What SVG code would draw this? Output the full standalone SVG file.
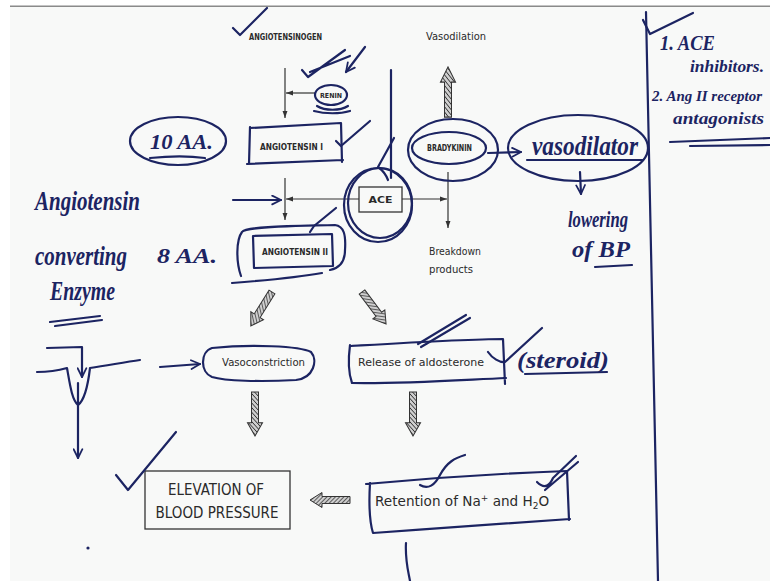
<svg xmlns="http://www.w3.org/2000/svg" width="770" height="581" viewBox="0 0 770 581">
<style>
.pt{font-family:"DejaVu Sans","Liberation Sans",sans-serif;fill:#2a2a2a}
.sc{font-size:8px;font-weight:bold}
.hw{font-family:"Liberation Serif",serif;font-style:italic;font-weight:bold;fill:#1c2462}
.pen{fill:none;stroke:#1c2462;stroke-width:2.2;stroke-linecap:round;stroke-linejoin:round}
.ln{fill:none;stroke:#333;stroke-width:1.2}
.box{fill:none;stroke:#333;stroke-width:1.3}
.ha{fill:url(#hatch);stroke:#333;stroke-width:1}
</style>
<defs>
<pattern id="hatch" patternUnits="userSpaceOnUse" width="3" height="3" patternTransform="rotate(45)">
<rect width="3" height="3" fill="#cfcfcf"/>
<line x1="0" y1="0" x2="0" y2="3" stroke="#333" stroke-width="1.5"/>
</pattern>
<path id="harrow" d="M0,-3.5 H28 V-7.5 L40,0 L28,7.5 V3.5 H0 Z"/>
<marker id="ah" viewBox="0 0 10 10" refX="10" refY="5" markerWidth="6" markerHeight="6" orient="auto"><path d="M0,1.5 L10,5 L0,8.5 Z" fill="#333"/></marker>
<marker id="pa" viewBox="0 0 10 10" refX="9" refY="5" markerWidth="5" markerHeight="5" orient="auto"><path d="M1,1 L9,5 L1,9" fill="none" stroke="#1c2462" stroke-width="1.6" stroke-linecap="round" stroke-linejoin="round"/></marker>
</defs>

<rect x="0" y="0" width="770" height="581" fill="#ffffff"/>
<rect x="10" y="7" width="760" height="574" fill="#f8f9f8"/>
<rect x="10" y="5.5" width="760" height="1.5" fill="#8a8a8a"/>

<g id="connectors">
<path class="ln" d="M285,68 V118" marker-end="url(#ah)"/>
<path class="ln" d="M316,93 H286" marker-end="url(#ah)"/>
<path class="ln" d="M359,199 H286" marker-end="url(#ah)"/>
<path class="ln" d="M285,178 V220" marker-end="url(#ah)"/>
<path class="ln" d="M402,199 H447" marker-end="url(#ah)"/>
<path class="ln" d="M448,172 V228" marker-end="url(#ah)"/>
<use href="#harrow" class="ha" transform="translate(448,117) rotate(-90) scale(1.25,1)"/>
<use href="#harrow" class="ha" transform="translate(272,292) rotate(122)"/>
<use href="#harrow" class="ha" transform="translate(362,292) rotate(53)"/>
<use href="#harrow" class="ha" transform="translate(255,392) rotate(90) scale(1.1,1)"/>
<use href="#harrow" class="ha" transform="translate(413,392) rotate(90) scale(1.1,1)"/>
<use href="#harrow" class="ha" transform="translate(350,500) rotate(180)"/>
<path class="pen" d="M488,153 L521,152" marker-end="url(#pa)"/>
<path class="pen" d="M580,172 L581,194" marker-end="url(#pa)"/>
<path class="pen" d="M233,200 L281,200" marker-end="url(#pa)"/>
<path class="pen" d="M160,367 L200,364" marker-end="url(#pa)"/>
<path class="pen" d="M365,47 L346,72" marker-end="url(#pa)"/>
</g>

<g id="angiotensinogen">
<text class="pt sc" x="249" y="40" textLength="73" lengthAdjust="spacingAndGlyphs">ANGIOTENSINOGEN</text>
</g>

<g id="vasodilation">
<text class="pt" x="426" y="40" font-size="10" textLength="60" lengthAdjust="spacingAndGlyphs">Vasodilation</text>
</g>

<g id="renin">
<ellipse class="pen" cx="331" cy="95" rx="16" ry="10" stroke-width="1.8"/>
<text class="pt" x="331" y="98" font-size="7" font-weight="bold" text-anchor="middle" textLength="22" lengthAdjust="spacingAndGlyphs">RENIN</text>
<path class="pen" d="M317,106 C325,111 340,111 348,106 M314,111 C325,114 340,114 350,111" stroke-width="1.8"/>
</g>

<g id="angiotensin-i">
<path class="pen" d="M250,128 L341,123 L342,162 M250,127 L249,164 M247,164 L343,160" stroke-width="2"/>
<text class="pt sc" x="260" y="150" textLength="63" lengthAdjust="spacingAndGlyphs">ANGIOTENSIN I</text>
</g>

<g id="ace">
<rect class="box" x="359" y="187" width="43" height="25"/>
<text class="pt" x="380.5" y="203" font-size="9.5" font-weight="bold" text-anchor="middle" textLength="24" lengthAdjust="spacingAndGlyphs">ACE</text>
<ellipse class="pen" cx="378" cy="205" rx="34" ry="37"/>
<ellipse class="pen" cx="380" cy="203" rx="32" ry="35" stroke-width="1.6"/>
</g>

<g id="bradykinin">
<ellipse class="pen" cx="453" cy="150" rx="45" ry="31"/>
<ellipse class="pen" cx="449" cy="148" rx="37" ry="16"/>
<text class="pt sc" x="427" y="151" font-size="7.5" textLength="45" lengthAdjust="spacingAndGlyphs">BRADYKININ</text>
</g>

<g id="breakdown-products">
<text class="pt" x="429" y="255" font-size="10" textLength="52" lengthAdjust="spacingAndGlyphs">Breakdown</text>
<text class="pt" x="429" y="273" font-size="10" textLength="44" lengthAdjust="spacingAndGlyphs">products</text>
</g>

<g id="angiotensin-ii">
<path class="pen" d="M253,236 L332,234 L333,266 L254,268 Z" stroke-width="2"/>
<path class="pen" d="M241,276 C236,262 236,240 242,232 C246,226 300,226 335,225 C344,226 346,235 345,250 C345,262 340,268 330,270 M232,283 C270,280 300,277 322,273"/>
<text class="pt sc" x="262" y="255" textLength="66" lengthAdjust="spacingAndGlyphs">ANGIOTENSIN II</text>
</g>

<g id="vasoconstriction">
<path class="pen" d="M212,348 C250,344 300,346 311,352 C318,360 314,378 296,380 C260,382 225,381 212,377 C200,372 200,352 212,348 Z"/>
<text class="pt" x="222" y="366" font-size="10" textLength="83" lengthAdjust="spacingAndGlyphs">Vasoconstriction</text>
</g>

<g id="aldosterone">
<path class="pen" d="M351,346 C420,342 470,339 503,339 L505,384 M350,345 C348,360 348,372 352,383 C400,384 460,380 506,378"/>
<text class="pt" x="358" y="366" font-size="10" textLength="126" lengthAdjust="spacingAndGlyphs">Release of aldosterone</text>
</g>

<g id="elevation">
<rect class="box" x="145" y="471" width="145" height="58"/>
<text class="pt" x="216" y="495" font-size="15" text-anchor="middle" textLength="96" lengthAdjust="spacingAndGlyphs">ELEVATION OF</text>
<text class="pt" x="217" y="518" font-size="15" text-anchor="middle" textLength="123" lengthAdjust="spacingAndGlyphs">BLOOD PRESSURE</text>
</g>

<g id="retention">
<path class="pen" d="M366,484 C430,478 510,473 567,471 L569,520 M370,483 C369,500 369,520 373,533 C440,528 510,523 570,519"/>
<text class="pt" x="375" y="506" font-size="13.6">Retention of Na<tspan dy="-5" font-size="9">+</tspan><tspan dy="5"> and H</tspan><tspan dy="3" font-size="9">2</tspan><tspan dy="-3">O</tspan></text>
</g>

<g id="vasodilator">
<ellipse class="pen" cx="578" cy="148" rx="70" ry="33"/>
<text class="hw" x="532" y="155" font-size="28" textLength="106" lengthAdjust="spacingAndGlyphs">vasodilator</text>
<path class="pen" d="M527,160 L643,160"/>
</g>

<g id="lowering-bp">
<text class="hw" x="568" y="227" font-size="24" textLength="60" lengthAdjust="spacingAndGlyphs">lowering</text>
<text class="hw" x="572" y="257" font-size="24" textLength="58" lengthAdjust="spacingAndGlyphs">of BP</text>
<path class="pen" d="M595,267 L632,265"/>
</g>

<g id="ten-aa">
<ellipse class="pen" cx="178" cy="141" rx="48" ry="24"/>
<path class="pen" d="M150,158 C170,156 190,156 205,158" stroke-width="1.6"/>
<text class="hw" x="150" y="149" font-size="22" textLength="63" lengthAdjust="spacingAndGlyphs">10 AA.</text>
</g>

<g id="ace-name">
<text class="hw" x="35" y="210" font-size="28" textLength="105" lengthAdjust="spacingAndGlyphs">Angiotensin</text>
<text class="hw" x="35" y="265" font-size="28" textLength="92" lengthAdjust="spacingAndGlyphs">converting</text>
<text class="hw" x="50" y="300" font-size="28" textLength="65" lengthAdjust="spacingAndGlyphs">Enzyme</text>
<path class="pen" d="M50,322 L100,316 M55,326 L102,320"/>
</g>

<g id="eight-aa">
<text class="hw" x="157" y="263" font-size="22" textLength="60" lengthAdjust="spacingAndGlyphs">8 AA.</text>
</g>

<g id="steroid">
<text class="hw" x="517" y="368" font-size="24" textLength="92" lengthAdjust="spacingAndGlyphs">(steroid)</text>
<path class="pen" d="M525,374 L607,372"/>
</g>

<g id="drug-notes">
<text class="hw" x="660" y="50" font-size="21" textLength="55" lengthAdjust="spacingAndGlyphs">1. ACE</text>
<text class="hw" x="690" y="72" font-size="17" textLength="74" lengthAdjust="spacingAndGlyphs">inhibitors.</text>
<text class="hw" x="652" y="101" font-size="15" textLength="110" lengthAdjust="spacingAndGlyphs">2. Ang II receptor</text>
<text class="hw" x="673" y="124" font-size="17" textLength="91" lengthAdjust="spacingAndGlyphs">antagonists</text>
<path class="pen" d="M670,142 L770,138 M690,146 L770,145"/>
</g>

<g id="annotations">
<path class="pen" d="M646,12 C648,150 652,350 658,581"/>
<path class="pen" d="M643,20 L650,34 L693,13"/>
<path class="pen" d="M233,28 L240,35 L267,8"/>
<path class="pen" d="M302,70 L308,77 L345,50 M310,72 L350,56"/>
<path class="pen" d="M391,70 V178" stroke-width="1.8"/>
<path class="pen" d="M394,138 L378,167 Q385,172 388,180"/>
<path class="pen" d="M336,141 L341,146 L370,121"/>
<path class="pen" d="M310,232 L314,226 L336,208"/>
<path class="pen" d="M418,344 L466,315 M421,347 L470,318"/>
<path class="pen" d="M488,352 C492,358 500,363 505,362 L542,328"/>
<path class="pen" d="M420,485 C428,490 435,485 440,475 C447,462 455,458 465,455"/>
<path class="pen" d="M537,482 C545,490 550,485 553,478 L576,456 M545,490 L578,462"/>
<path class="pen" d="M116,475 L128,490 L176,432"/>
<path class="pen" d="M47,348 L82,347 L82,377" marker-end="url(#pa)"/>
<path class="pen" d="M37,372 C50,372 60,370 67,368 C70,385 72,400 78,405 C85,400 88,385 90,368 C110,365 125,362 140,360"/>
<path class="pen" d="M78,383 L78,458" marker-end="url(#pa)"/>
<path class="pen" d="M406,543 C405,560 408,570 410,581"/>
<circle cx="88" cy="548" r="1.6" fill="#1c2462"/>
</g>
</svg>
